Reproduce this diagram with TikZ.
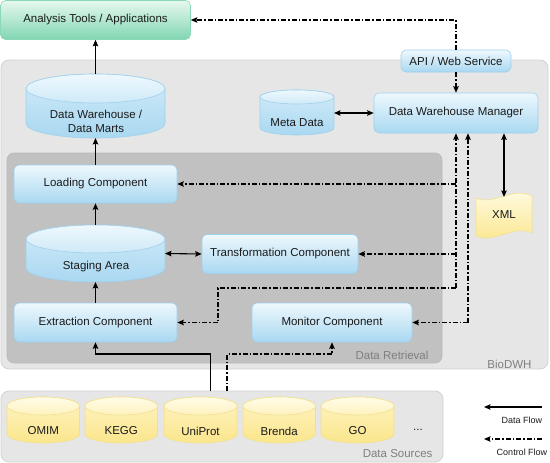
\documentclass[tikz,border=0pt]{standalone}
\usepackage{fontspec}
\setmainfont{Liberation Sans}
\usetikzlibrary{arrows.meta}
\definecolor{bluetop}{HTML}{EEF8FD}
\definecolor{bluebot}{HTML}{A9D8F1}
\definecolor{blueedge}{HTML}{9FD0EC}
\definecolor{yeltop}{HTML}{FFFCE8}
\definecolor{yelbot}{HTML}{FBE68C}
\definecolor{yeledge}{HTML}{F3E08E}
\definecolor{grntop}{HTML}{E6F8EF}
\definecolor{grnbot}{HTML}{80D6B1}
\definecolor{grnedge}{HTML}{8CD8B6}
\definecolor{regfill}{HTML}{E6E6E6}
\definecolor{regedge}{HTML}{D2D2D2}
\definecolor{drfill}{HTML}{C1C1C1}
\definecolor{dredge}{HTML}{B9B9B9}
\definecolor{txt}{HTML}{1A1A1A}
\definecolor{lbl}{HTML}{7F7F7F}
\newcommand\cyl[7]{%
 \pgfmathsetmacro\cylrx{(#2-#1)/2}%
 \pgfmathsetmacro\cylcx{(#2+#1)/2}%
 \path[#6] (#1,#3+#5) -- (#1,#4-#5) arc[start angle=180,end angle=360,x radius=\cylrx pt,y radius=#5pt] -- (#2,#3+#5) arc[start angle=0,end angle=180,x radius=\cylrx pt,y radius=#5pt] -- cycle;
 \path[#7] (\cylcx,#3+#5) ellipse[x radius=\cylrx pt,y radius=#5pt];
}
\tikzset{
 mainfont/.style={font=\fontsize{11.5}{13.5}\selectfont, text=txt},
 box/.style={mainfont, rounded corners=5pt, draw=blueedge, top color=bluetop, bottom color=bluebot, line width=0.6pt, inner sep=0pt, align=center},
 gbox/.style={box, draw=grnedge, top color=grntop, bottom color=grnbot},
 bcylbody/.style={draw=blueedge, line width=0.6pt, top color=bluetop!60!bluebot, bottom color=bluebot},
 bcyltop/.style={draw=blueedge, line width=0.6pt, top color=bluetop, bottom color=bluetop!55!bluebot},
 ycylbody/.style={draw=yeledge, line width=0.6pt, top color=yeltop!60!yelbot, bottom color=yelbot},
 ycyltop/.style={draw=yeledge, line width=0.6pt, top color=yeltop, bottom color=yeltop!55!yelbot},
 anchorbox/.style={inner sep=0pt, outer sep=0pt},
 lab/.style={mainfont},
 reglab/.style={font=\fontsize{11.5}{13.5}\selectfont, text=lbl},
 leglab/.style={font=\fontsize{9}{11}\selectfont, text=txt},
 df/.style={line width=1.1pt, -{Stealth[length=6.5pt,width=5.5pt,inset=1pt]}},
 dfboth/.style={line width=1.1pt, {Stealth[length=6.5pt,width=5.5pt,inset=1pt]}-{Stealth[length=6.5pt,width=5.5pt,inset=1pt]}},
 dfline/.style={line width=1.1pt},
 cf/.style={df, dash pattern=on 5pt off 2pt on 1.5pt off 2pt},
 cfline/.style={line width=1.1pt, dash pattern=on 5pt off 2pt on 1.5pt off 2pt},
}
\begin{document}
\begin{tikzpicture}[x=1pt,y=-1pt]
\useasboundingbox (0,0) rectangle (550,463);
% regions
\node[anchorbox, draw=regedge, fill=regfill, rounded corners=8pt, line width=0.8pt, minimum width=547pt, minimum height=309pt] (biodwh) at (274.5,214.5) {};
\node[anchorbox, draw=dredge, fill=drfill, rounded corners=7pt, line width=0.6pt, minimum width=435pt, minimum height=210pt] (retr) at (224.5,258) {};
\node[anchorbox, draw=regedge, fill=regfill, rounded corners=8pt, line width=0.8pt, minimum width=442pt, minimum height=71pt] (src) at (222,426.5) {};
\node[reglab, anchor=east] (retrlab) at (432,355) {Data Retrieval};
\node[reglab, anchor=east] (biolab) at (535,364) {BioDWH};
\node[reglab, anchor=east] (srclab) at (436,454) {Data Sources};
% boxes
\node[gbox, minimum width=190pt, minimum height=39pt] (analysis) at (95.5,20) {Analysis Tools / Applications};
\node[box, minimum width=110pt, minimum height=22pt] (api) at (456,61) {API / Web Service};
\node[box, minimum width=164pt, minimum height=40pt] (dwm) at (456,113) {Data Warehouse Manager};
\node[box, minimum width=163pt, minimum height=38pt] (loading) at (95.5,184) {Loading Component};
\node[box, minimum width=156pt, minimum height=39pt] (transf) at (280,254) {Transformation Component};
\node[box, minimum width=163pt, minimum height=39pt] (extraction) at (95.5,322.5) {Extraction Component};
\node[box, minimum width=160pt, minimum height=39pt] (monitor) at (332,322.5) {Monitor Component};
% cylinders
\cyl{26}{165}{74}{138}{14.5}{bcylbody}{bcyltop}
\node[anchorbox, minimum width=139pt, minimum height=64pt] (dw) at (95.5,106) {};
\node[lab, align=center] (dwtext) at (96,121.5) {Data Warehouse /\\Data Marts};
\cyl{26}{165}{225}{282}{14}{bcylbody}{bcyltop}
\node[anchorbox, minimum width=139pt, minimum height=57pt] (staging) at (95.5,253.5) {};
\node[lab] (stagtext) at (96,267) {Staging Area};
\cyl{260}{334}{90}{135}{7}{bcylbody}{bcyltop}
\node[anchorbox, minimum width=74pt, minimum height=45pt] (meta) at (297,113) {};
\node[lab] (metatext) at (297,123) {Meta Data};
\foreach \n/\a/\b in {OMIM/7/79.5, KEGG/85/157.5, UniProt/164/237, Brenda/243/315.5, GO/321/394}{
  \cyl{\a}{\b}{397}{443}{9}{ycylbody}{ycyltop}
  \node[lab] (ds\n) at ({(\a+\b)/2},431) {\n};
}
\node[lab] (dots) at (418,430) {...};
% XML
\path[draw=yeledge, line width=0.6pt, top color=yeltop, bottom color=yelbot] (476,198) .. controls (494,206) and (512,186) .. (532,196) -- (532,233) .. controls (513,224) and (495,244) .. (476,236) -- cycle;
\node[lab, anchorbox, minimum width=56pt, minimum height=36pt] (xml) at (504,215) {XML};
% data flow
\draw[df] (dw.north) -- (analysis.south);
\draw[df] (loading.north) -- (dw.south);
\draw[df] (staging.north) -- (loading.south);
\draw[df] (extraction.north) -- (staging.south);
\draw[dfboth] (staging.east) -- (transf.west);
\draw[dfboth] (meta.east) -- (dwm.west);
\draw[dfboth] (dwm.south -| xml.north) -- (xml.north);
\coordinate (s1) at (210.5,391);
\coordinate (s1b) at (210.5,354);
\draw[df] (s1) -- (s1b) -| (extraction.south);
% control flow
\draw[cf] (api.south) -- (dwm.north);
\draw[cf] (api.north) |- (analysis.east);
\coordinate (c1) at (456,288);
\coordinate (c2) at (218,322.5);
\draw[cf] (c1) -- (c1 |- dwm.south);
\draw[cf] (c1) -| (c2) -- (extraction.east);
\draw[cf] (c1 |- loading.east) -- (loading.east);
\draw[cf] (c1 |- transf.east) -- (transf.east);
\coordinate (c3) at (468,322.5);
\draw[cf] (c3) -- (c3 |- dwm.south);
\draw[cf] (c3) -- (monitor.east);
\coordinate (s2) at (227,391);
\coordinate (s2b) at (227,354);
\draw[cf] (s2) -- (s2b) -| (monitor.south);
% legend
\coordinate (l1s) at (542,407);
\coordinate (l1e) at (484,407);
\draw[df] (l1s) -- (l1e);
\node[leglab] (l1t) at (522,420) {Data Flow};
\coordinate (l2s) at (542,439);
\coordinate (l2e) at (484,439);
\draw[cf] (l2s) -- (l2e);
\node[leglab] (l2t) at (522,452) {Control Flow};
\end{tikzpicture}
\end{document}
